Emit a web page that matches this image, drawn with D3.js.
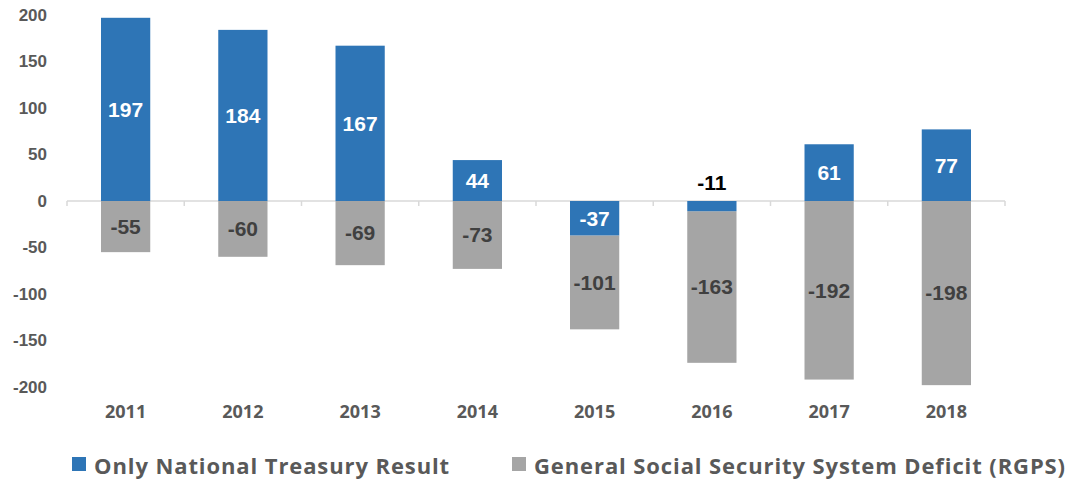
<!DOCTYPE html>
<html>
<head>
<meta charset="utf-8">
<script src="https://cdn.jsdelivr.net/npm/d3@7"></script>
<style>
  body { margin: 0; background: #fff; }
  svg { display: block; }
</style>
</head>
<body>
<script>
// data
var years = ["2011", "2012", "2013", "2014", "2015", "2016", "2017", "2018"];
var treasury = [197, 184, 167, 44, -37, -11, 61, 77];
var rgps = [-55, -60, -69, -73, -101, -163, -192, -198];
var yTicks = [200, 150, 100, 50, 0, -50, -100, -150, -200];
var seriesNames = ["Only National Treasury Result", "General Social Security System Deficit (RGPS)"];
var colors = ["#2e75b6", "#a5a5a5"];

var width = 1074,
    height = 483;

var svg = d3.select("body")
    .append("svg")
    .attr("width", width)
    .attr("height", height);

var x = d3.scaleBand()
    .domain(years)
    .range([67, 1005]);

var y = d3.scaleLinear()
    .domain([-200, 200])
    .range([387, 15]);

var barW = x.bandwidth() * 0.42;

// zero line with ticks at category boundaries
svg.append("line")
    .attr("x1", x.range()[0])
    .attr("x2", x.range()[1])
    .attr("y1", y(0))
    .attr("y2", y(0))
    .attr("stroke", "#d9d9d9")
    .attr("stroke-width", 1.5);

var bounds = years.map(function(d){ return x(d); }).concat([x.range()[1]]);
svg.selectAll(".tick-mark")
    .data(bounds)
    .enter()
    .append("line")
    .attr("class", "tick-mark")
    .attr("x1", function(d){ return d; })
    .attr("x2", function(d){ return d; })
    .attr("y1", y(0))
    .attr("y2", y(0) + 5)
    .attr("stroke", "#d9d9d9")
    .attr("stroke-width", 1.5);

// y axis labels
svg.selectAll(".ylab")
    .data(yTicks)
    .enter()
    .append("text")
    .attr("class", "ylab")
    .attr("x", 47)
    .attr("y", function(d){ return y(d); })
    .attr("dy", "0.35em")
    .attr("text-anchor", "end")
    .style("font-family", "'Liberation Sans', Arial, sans-serif")
    .style("font-weight", "bold")
    .style("font-size", "17px")
    .style("fill", "#595959")
    .text(function(d){ return d; });

// stacked segments: blue from 0, gray below blue if blue is negative
var rows = years.map(function(yr, i){
    var t = treasury[i], g = rgps[i];
    var gStart = t < 0 ? t : 0;
    return {
        year: yr,
        t: t,
        g: g,
        tTop: Math.max(0, t), tBot: Math.min(0, t),
        gTop: gStart, gBot: gStart + g
    };
});

var cx = function(d){ return x(d.year) + x.bandwidth() / 2; };

svg.selectAll(".bar-g")
    .data(rows)
    .enter()
    .append("rect")
    .attr("class", "bar-g")
    .attr("x", function(d){ return cx(d) - barW / 2; })
    .attr("y", function(d){ return y(d.gTop); })
    .attr("width", barW)
    .attr("height", function(d){ return y(d.gBot) - y(d.gTop); })
    .attr("fill", colors[1]);

svg.selectAll(".bar-t")
    .data(rows)
    .enter()
    .append("rect")
    .attr("class", "bar-t")
    .attr("x", function(d){ return cx(d) - barW / 2; })
    .attr("y", function(d){ return y(d.tTop); })
    .attr("width", barW)
    .attr("height", function(d){ return y(d.tBot) - y(d.tTop); })
    .attr("fill", colors[0]);

// value labels
svg.selectAll(".lab-t")
    .data(rows)
    .enter()
    .append("text")
    .attr("class", "lab-t")
    .attr("x", cx)
    .attr("y", function(d){
        if (Math.abs(d.t) < 20) return y(0) - 18;
        return y((d.tTop + d.tBot) / 2);
    })
    .attr("dy", "0.35em")
    .attr("text-anchor", "middle")
    .style("font-family", "'Liberation Sans', Arial, sans-serif")
    .style("font-weight", "bold")
    .style("font-size", "21px")
    .style("fill", function(d){ return Math.abs(d.t) < 20 ? "#000" : "#fff"; })
    .text(function(d){ return d.t; });

svg.selectAll(".lab-g")
    .data(rows)
    .enter()
    .append("text")
    .attr("class", "lab-g")
    .attr("x", cx)
    .attr("y", function(d){ return y((d.gTop + d.gBot) / 2); })
    .attr("dy", "0.35em")
    .attr("text-anchor", "middle")
    .style("font-family", "'Liberation Sans', Arial, sans-serif")
    .style("font-weight", "bold")
    .style("font-size", "21px")
    .style("fill", "#404040")
    .text(function(d){ return d.g; });

// year labels
svg.selectAll(".xlab")
    .data(years)
    .enter()
    .append("text")
    .attr("class", "xlab")
    .attr("x", function(d){ return x(d) + x.bandwidth() / 2; })
    .attr("y", 412)
    .attr("dy", "0.35em")
    .attr("text-anchor", "middle")
    .style("font-family", "'Open Sans', sans-serif")
    .style("font-weight", "bold")
    .style("font-size", "18px")
    .style("fill", "#595959")
    .text(function(d){ return d; });

// legend
var legendX = [72, 512];
var legend = svg.selectAll(".legend")
    .data(seriesNames)
    .enter()
    .append("g")
    .attr("class", "legend")
    .attr("transform", function(d, i){ return "translate(" + legendX[i] + ",464)"; });

legend.append("rect")
    .attr("x", 0)
    .attr("y", -7)
    .attr("width", 14)
    .attr("height", 14)
    .attr("fill", function(d, i){ return colors[i]; });

legend.append("text")
    .attr("x", 22)
    .attr("y", 2)
    .attr("dy", "0.35em")
    .style("font-family", "'Open Sans', sans-serif")
    .style("font-weight", "bold")
    .style("font-size", "22px")
    .style("letter-spacing", "0.9px")
    .style("fill", "#595959")
    .text(function(d){ return d; });
</script>
</body>
</html>
